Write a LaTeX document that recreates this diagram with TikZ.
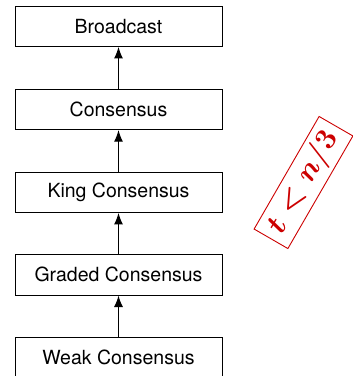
\RequirePackage{fix-cm}
\documentclass[tikz,border=0pt]{standalone}
\usepackage{fontspec}
\newfontfamily\heros{TeX Gyre Heros}
\usetikzlibrary{arrows.meta}
\definecolor{boundred}{RGB}{204,0,0}
\begin{document}
\begin{tikzpicture}[x=1pt,y=-1pt,
  layer/.style={draw=black, line width=0.9pt, minimum width=207pt,
    minimum height=40.5pt, inner sep=0pt, font=\heros\fontsize{19.5}{22}\selectfont},
  uses/.style={draw=black, line width=1.2pt, -{Latex[length=11.5pt,width=9pt]}},
  bound/.style={draw=boundred, text=boundred, line width=0.9pt, rotate=60,
    minimum width=130pt, minimum height=39pt, inner sep=0pt,
    font=\fontsize{30}{33}\selectfont\boldmath}]
\useasboundingbox (0,0) rectangle (353,376);
\node[layer] (bc)  at (118.5, 26.2)  {Broadcast};
\node[layer] (con) at (118.5, 109.4) {Consensus};
\node[layer] (kc)  at (118.5, 192.2) {King Consensus};
\node[layer] (gc)  at (118.5, 274.8) {Graded Consensus};
\node[layer] (wc)  at (118.5, 357.5) {Weak Consensus};
\draw[uses] (con) -- (bc);
\draw[uses] (kc) -- (con);
\draw[uses] (gc) -- (kc);
\draw[uses] (wc) -- (gc);
\node[bound] (tb) at (303.5, 182.5) {$t<n/3$};
\end{tikzpicture}
\end{document}
